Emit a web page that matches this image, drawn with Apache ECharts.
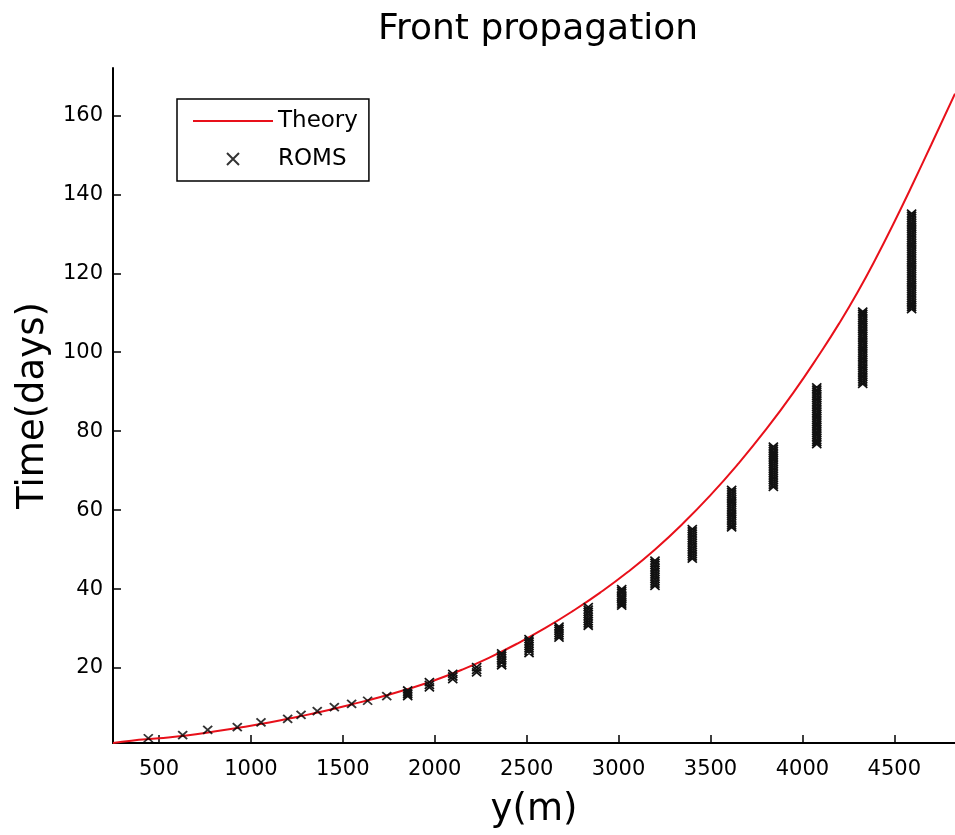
<!DOCTYPE html>
<html>
<head>
<meta charset="utf-8">
<script src="https://cdn.jsdelivr.net/npm/echarts@6/dist/echarts.min.js"></script>
<style>html,body{margin:0;padding:0;background:#fff;}#c{width:955px;height:835px;}</style>
</head>
<body>
<div id="c"></div>
<script>
// Tick labels
var xTicks = [500, 1000, 1500, 2000, 2500, 3000, 3500, 4000, 4500];
var yTicks = [20, 40, 60, 80, 100, 120, 140, 160];

// Theory curve: y (m) and time (days)
var theoryY = [250, 350, 500, 650, 800, 950, 1100, 1250, 1400, 1550, 1700, 1850, 2000, 2150, 2300, 2450, 2600, 2750, 2900, 3050, 3200, 3350, 3500, 3650, 3800, 3950, 4100, 4200, 4300, 4400, 4500, 4600, 4700, 4830];
var theoryT = [1.0, 1.6, 2.2, 2.9, 3.9, 5.0, 6.2, 7.6, 9.1, 10.8, 12.6, 14.6, 16.9, 19.6, 22.7, 26.2, 30.1, 34.4, 39.1, 44.3, 50.1, 56.6, 63.8, 71.7, 80.3, 89.7, 100.0, 107.3, 115.2, 123.8, 133.0, 142.6, 152.5, 165.5];

// ROMS single markers
var romsY = [442, 629, 765, 926, 1055, 1200, 1273, 1361, 1454, 1548, 1635, 1739];
var romsT = [2.2, 3.0, 4.3, 5.0, 6.2, 7.1, 8.1, 9.1, 10.1, 10.9, 11.7, 12.9];

// ROMS stacked marker columns: position, first and last time of the stack
var colY = [1853, 1971, 2098, 2228, 2364, 2513, 2676, 2835, 3017, 3198, 3401, 3615, 3842, 4078, 4328, 4594];
var colT0 = [12.9, 15.1, 17.2, 18.9, 20.7, 23.8, 27.7, 30.7, 35.8, 40.8, 47.7, 55.6, 65.9, 76.7, 92.0, 110.9];
var colT1 = [14.3, 16.4, 18.5, 20.2, 23.7, 27.3, 30.5, 35.4, 40.0, 47.2, 55.2, 65.1, 76.1, 91.1, 110.3, 135.1];

var theoryData = theoryY.map(function (v, i) { return [v, theoryT[i]]; });
var romsData = romsY.map(function (v, i) { return [v, romsT[i]]; });
var colData = colY.map(function (v, i) { return [v, colT0[i], colT1[i]]; });

var FONT = 'DejaVu Sans';
var chart = echarts.init(document.getElementById('c'), null, { renderer: 'canvas' });

function renderColumn(params, api) {
  var x = api.value(0), t0 = api.value(1), t1 = api.value(2);
  var pb = api.coord([x, t0]);
  var pt = api.coord([x, t1]);
  var cx = pb[0];
  var hw = 4.6, hh = 4.0, step = 2.2;
  var span = pb[1] - pt[1];
  var n = Math.max(1, Math.round(span / step));
  var d = '';
  for (var i = 0; i <= n; i++) {
    var cy = pt[1] + span * i / n;
    d += 'M' + (cx - hw) + ' ' + (cy - hh) + 'L' + (cx + hw) + ' ' + (cy + hh) +
         'M' + (cx + hw) + ' ' + (cy - hh) + 'L' + (cx - hw) + ' ' + (cy + hh);
  }
  return {
    type: 'path',
    shape: { pathData: d, x: cx - hw, y: pt[1] - hh, width: 2 * hw, height: span + 2 * hh, layout: 'cover' },
    style: { fill: 'none', stroke: '#111', lineWidth: 1.7 }
  };
}

chart.setOption({
  backgroundColor: '#fff',
  animation: false,
  title: {
    text: 'Front propagation',
    left: 538, top: 12, textAlign: 'center', padding: 0,
    textStyle: { fontFamily: FONT, fontSize: 36, fontWeight: 'normal', color: '#000' }
  },
  legend: {
    orient: 'vertical', left: 177, top: 99,
    padding: [10, 11, 10, 15],
    borderColor: '#000', borderWidth: 1.5, backgroundColor: '#fff',
    itemWidth: 80, itemHeight: 12, itemGap: 14,
    textStyle: { fontFamily: FONT, fontSize: 23, color: '#000', lineHeight: 24 },
    data: [
      { name: 'Theory', itemStyle: { opacity: 0 } },
      { name: 'ROMS' }
    ]
  },
  grid: { left: 113, right: 0, top: 68, bottom: 92, containLabel: false },
  xAxis: {
    type: 'value', min: 250, max: 4830,
    name: 'y(m)', nameLocation: 'middle', nameGap: 49,
    nameTextStyle: { fontFamily: FONT, fontSize: 37, color: '#000' },
    axisLine: { show: true, onZero: false, lineStyle: { color: '#000', width: 2 } },
    axisTick: { show: true, inside: true, length: 8, lineStyle: { color: '#000', width: 1.5 }, customValues: xTicks },
    axisLabel: { fontFamily: FONT, fontSize: 21, color: '#000', margin: 16, customValues: xTicks,
      formatter: function (v) { return String(v); } },
    splitLine: { show: false }
  },
  yAxis: {
    type: 'value', min: 1, max: 172,
    name: 'Time(days)', nameLocation: 'middle', nameGap: 60, nameRotate: 90,
    nameTextStyle: { fontFamily: FONT, fontSize: 37, color: '#000' },
    axisLine: { show: true, onZero: false, lineStyle: { color: '#000', width: 2 } },
    axisTick: { show: true, inside: true, length: 8, lineStyle: { color: '#000', width: 1.5 }, customValues: yTicks },
    axisLabel: { fontFamily: FONT, fontSize: 21, color: '#000', margin: 10, customValues: yTicks,
      formatter: function (v) { return String(v); } },
    splitLine: { show: false }
  },
  series: [
    {
      name: 'Theory', type: 'line', data: theoryData, smooth: 0.5,
      symbol: 'none', showSymbol: false,
      lineStyle: { color: '#e8101a', width: 2 },
      itemStyle: { color: '#e8101a' },
      z: 3
    },
    {
      name: 'ROMS', type: 'scatter', data: romsData,
      symbol: 'path://M0 0L10 10M10 0L0 10', symbolSize: [9, 8], symbolKeepAspect: false,
      itemStyle: { color: 'none', borderColor: '#000', borderWidth: 1.8 },
      z: 4
    },
    {
      name: 'ROMS', type: 'custom', data: colData,
      encode: { x: 0, y: [1, 2] },
      renderItem: renderColumn,
      z: 4
    }
  ]
});
</script>
</body>
</html>
